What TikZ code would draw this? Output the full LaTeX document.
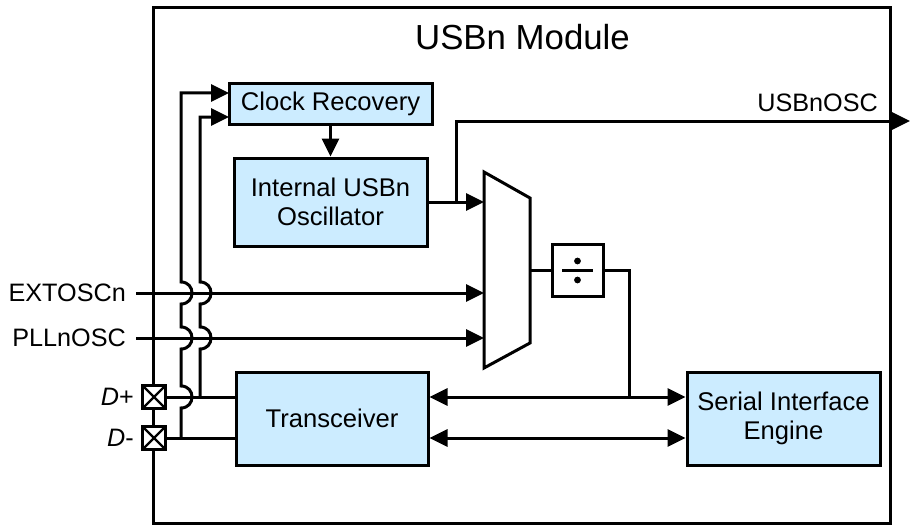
\documentclass[tikz,border=0pt]{standalone}
\usepackage{fontspec}
\setmainfont{Liberation Sans}
\usetikzlibrary{arrows.meta}
\definecolor{boxfill}{RGB}{204,236,255}
\begin{document}
\begin{tikzpicture}[x=1pt,y=-1pt,
  blk/.style={draw, line width=3pt, fill=boxfill, align=center,
    font=\fontsize{25.6}{29}\selectfont, inner sep=0pt},
  wire/.style={line width=3pt},
  arr/.style={wire, -{Triangle[length=18pt,width=17pt]}},
  barr/.style={wire, {Triangle[length=18pt,width=17pt]}-{Triangle[length=18pt,width=17pt]}},
  lbl/.style={font=\fontsize{25.2}{29}\selectfont, inner sep=0pt},
  pad/.style={draw, fill=white, line width=2.6pt, minimum size=23pt, inner sep=0pt,
    path picture={\draw[line width=2.4pt]
      (path picture bounding box.north west) -- (path picture bounding box.south east)
      (path picture bounding box.north east) -- (path picture bounding box.south west);}}]
\useasboundingbox (0,0) rectangle (911,527);

% module frame and title
\node[draw, line width=3pt, minimum width=737pt, minimum height=515pt, inner sep=0pt] (mod) at (521.5,265.5) {};
\node[font=\fontsize{34.8}{40}\selectfont, inner sep=0pt] (title) at (522.5,37) {USBn Module};

% blocks
\node[blk, minimum width=203pt, minimum height=40pt] (cr) at (330.5,104) {Clock Recovery};
\node[blk, minimum width=193pt, minimum height=88pt] (osc) at (330.5,202) {Internal USBn\\Oscillator};
\node[blk, minimum width=192pt, minimum height=93pt] (trx) at (332,418.5) {Transceiver};
\node[blk, minimum width=193pt, minimum height=93pt] (sie) at (783.5,418.5) {Serial Interface\\Engine};

% mux
\draw[wire, line join=miter] (484,172) -- (530,198) -- (530,343) -- (484,368) -- cycle;
\coordinate (muxA) at (484,202);
\coordinate (muxB) at (484,293);
\coordinate (muxC) at (484,338);
\coordinate (muxO) at (530,270.5);

% divider
\node[draw, line width=3pt, minimum width=51pt, minimum height=52pt, inner sep=0pt] (div) at (577.5,270.5) {};
\fill (577.5,261) circle (3.4);
\fill (577.5,280) circle (3.4);
\draw[line width=3pt] (562,270.5) -- (593,270.5);

% pads
\node[pad] (dp) at (154,397) {};
\node[pad] (dm) at (154,438) {};

% labels
\node[lbl, anchor=east] (extL) at (126,293) {EXTOSCn};
\node[lbl, anchor=east] (pllL) at (126,338) {PLLnOSC};
\node[lbl, anchor=east] (dpL) at (134,397) {\textit{D}+};
\node[lbl, anchor=east] (dmL) at (134,438) {\textit{D}-};
\node[lbl, anchor=east] (oscL) at (878,103) {USBnOSC};

% coordinates
\coordinate (extS) at (136,293);
\coordinate (pllS) at (136,338);
\coordinate (br) at (456,202);
\coordinate (outE) at (910,121);
\coordinate (j1) at (629,397);
\coordinate (cin1) at (229,93);
\coordinate (cin2) at (229,117);
\coordinate (v1b) at (181,438);
\coordinate (v2b) at (200,397);

% connectors
\draw[arr] (cr.south) -- (osc.north);
\draw[arr] (osc.east) -- (muxA);
\draw[arr] (br) |- (outE);
\draw[arr] (extS) -- (muxB);
\draw[arr] (pllS) -- (muxC);
\draw[wire] (muxO) -- (div.west);
\draw[wire] (div.east) -| (j1);
\draw[wire] (dp.east) -- (trx.west |- dp.east);
\draw[wire] (dm.east) -- (trx.west |- dm.east);
\draw[barr] (trx.east |- j1) -- (sie.west |- j1);
\draw[barr] (trx.east |- dm.east) -- (sie.west |- dm.east);

% vertical lines with hops
\draw[arr] (v1b) -- (181,408) .. controls (195.7,408) and (195.7,386) .. (181,386)
  -- (181,349) .. controls (195.7,349) and (195.7,327) .. (181,327)
  -- (181,304) .. controls (195.7,304) and (195.7,282) .. (181,282)
  -- (181,93) -- (cin1);
\draw[arr] (v2b) -- (200,349) .. controls (214.7,349) and (214.7,327) .. (200,327)
  -- (200,304) .. controls (214.7,304) and (214.7,282) .. (200,282)
  -- (200,117) -- (cin2);
\end{tikzpicture}
\end{document}
